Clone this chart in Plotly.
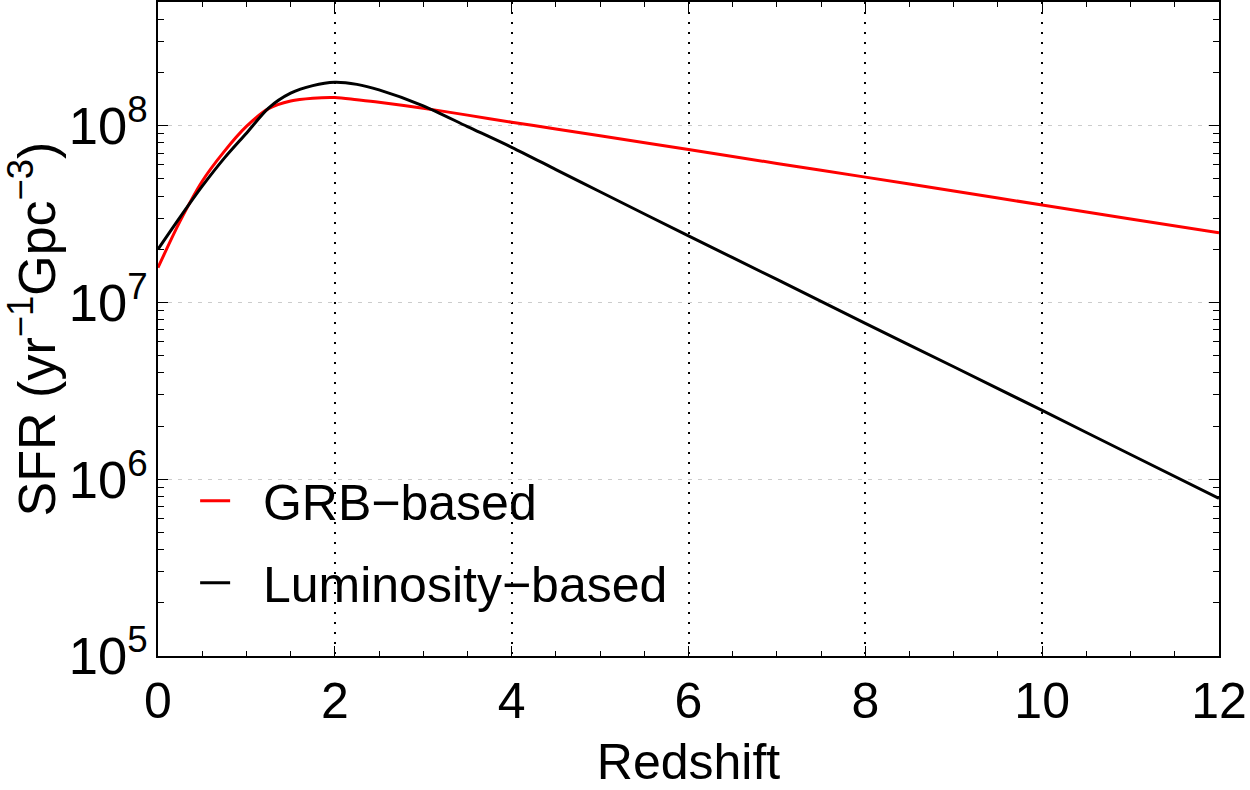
import plotly.graph_objects as go

# Redshift sample points
redshift = [0, 0.25, 0.5, 0.75, 1.0, 1.25, 1.5, 1.75, 2.0, 2.25, 2.5, 3.0, 3.5,
            4.0, 4.5, 5.0, 6.0, 7.0, 8.0, 9.0, 10.0, 11.0, 12.0]

# GRB-based SFR (yr^-1 Gpc^-3)
sfr_grb = [1.574e7, 2.884e7, 4.853e7, 7.161e7, 9.908e7, 1.250e8, 1.380e8, 1.432e8,
           1.445e8, 1.403e8, 1.358e8, 1.256e8, 1.148e8, 1.047e8, 9.59e7, 8.77e7,
           7.33e7, 6.12e7, 5.12e7, 4.27e7, 3.56e7, 2.97e7, 2.48e7]

# Luminosity-based SFR (yr^-1 Gpc^-3)
sfr_lum = [2.0e7, 3.04e7, 4.55e7, 6.56e7, 9.08e7, 1.259e8, 1.528e8, 1.687e8,
           1.762e8, 1.714e8, 1.596e8, 1.297e8, 9.89e7, 7.55e7, 5.65e7, 4.23e7,
           2.38e7, 1.35e7, 7.62e6, 4.33e6, 2.45e6, 1.38e6, 7.80e5]

series_names = ["GRB\u2212based", "Luminosity\u2212based"]
x_ticks = [0, 2, 4, 6, 8, 10, 12]

FONT = "Liberation Sans, Arial, Helvetica, sans-serif"
PAD = "\u00a0\u00a0"

fig = go.Figure()
fig.add_trace(go.Scatter(x=redshift, y=sfr_grb, mode="lines", name=PAD + series_names[0],
                         legendgroup="a",
                         line=dict(color="#ff0000", width=3, shape="spline", smoothing=0.9)))
fig.add_trace(go.Scatter(x=redshift, y=sfr_lum, mode="lines", name=PAD + series_names[1],
                         legendgroup="b",
                         line=dict(color="#000000", width=3, shape="spline", smoothing=0.8)))

fig.update_layout(
    width=1250, height=790,
    margin=dict(l=158, r=31, t=0, b=134),
    paper_bgcolor="white", plot_bgcolor="white",
    font=dict(family=FONT, color="black", size=50),
    showlegend=True,
    legend=dict(x=0.035, y=0.297, xanchor="left", yanchor="top",
                bgcolor="rgba(0,0,0,0)", borderwidth=0,
                font=dict(size=50, family=FONT),
                itemwidth=30, tracegroupgap=14, traceorder="grouped"),
    xaxis=dict(
        range=[0, 12], tickvals=x_ticks,
        ticks="inside", ticklen=10, tickwidth=1, tickcolor="black",
        showline=True, linecolor="black", linewidth=2, mirror="allticks",
        showgrid=True, gridcolor="black", gridwidth=2, griddash="2px,8px",
        zeroline=False,
        tickfont=dict(size=50, family=FONT),
        title=dict(text="Redshift", font=dict(size=50, family=FONT), standoff=20),
        minor=dict(dtick=0.5, ticks="inside", ticklen=5, tickcolor="black", showgrid=False),
    ),
    yaxis=dict(
        type="log", range=[5, 8.70], dtick=1,
        exponentformat="power",
        ticks="inside", ticklen=10, tickwidth=1, tickcolor="black",
        showline=True, linecolor="black", linewidth=2, mirror="allticks",
        showgrid=True, gridcolor="#cccccc", gridwidth=1, griddash="4px,6px",
        zeroline=False,
        tickfont=dict(size=42, family=FONT),
        title=dict(text="SFR (yr<sup>\u22121</sup>Gpc<sup>\u22123</sup>)",
                   font=dict(size=52, family=FONT), standoff=8),
        minor=dict(ticks="inside", ticklen=6, tickcolor="black", showgrid=False),
    ),
)

fig.write_html("out.html")
